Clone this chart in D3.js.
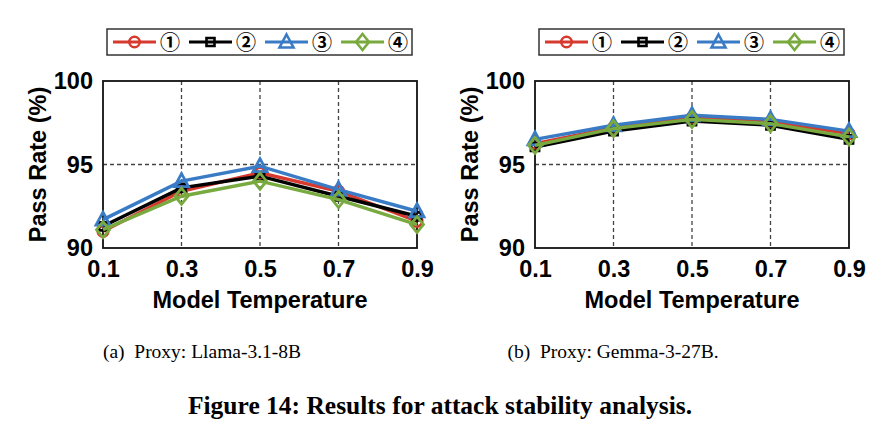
<!DOCTYPE html>
<html>
  <head>
    <meta charset="UTF-8" />
    <title>Figure 14: Results for attack stability analysis</title>
    <style>
      body { margin: 0; background: #fff; }
    </style>
  </head>
  <body>
    <script src="https://cdn.jsdelivr.net/npm/d3@7/dist/d3.min.js"></script>
    <script>
      // temperatures on the x axis
      var temps = [0.1, 0.3, 0.5, 0.7, 0.9];
      var xTickLabels = ["0.1", "0.3", "0.5", "0.7", "0.9"];
      var yTicks = [90, 95, 100];
      var seriesNames = ["\u2460", "\u2461", "\u2462", "\u2463"];
      var seriesColours = ["#d63a2f", "#000000", "#3a7bc6", "#79aa3f"];
      var seriesMarkers = ["circle", "square", "triangle", "diamond"];

      // (a) proxy Llama-3.1-8B
      var llamaS1 = [91.0, 93.4, 94.5, 93.4, 91.6];
      var llamaS2 = [91.3, 93.6, 94.3, 93.1, 91.9];
      var llamaS3 = [91.7, 94.0, 94.9, 93.5, 92.2];
      var llamaS4 = [91.1, 93.1, 94.0, 92.9, 91.4];

      // (b) proxy Gemma-3-27B
      var gemmaS1 = [96.25, 97.2, 97.8, 97.55, 96.85];
      var gemmaS2 = [96.05, 97.0, 97.6, 97.35, 96.5];
      var gemmaS3 = [96.5, 97.35, 97.95, 97.7, 97.0];
      var gemmaS4 = [96.15, 97.15, 97.7, 97.45, 96.65];

      var captions = ["(a)\u2002Proxy: Llama-3.1-8B", "(b)\u2002Proxy: Gemma-3-27B."];
      var figTitle = "Figure 14: Results for attack stability analysis.";

      var sans = "'Liberation Sans', Arial, sans-serif";
      var serif = "'Liberation Serif', 'DejaVu Serif', serif";

      var svg = d3.select("body").append("svg")
        .attr("width", 880)
        .attr("height", 438);

      function markerPath(type) {
        if (type == "circle") return d3.symbol(d3.symbolCircle, 85)();
        if (type == "square") return "M-4,-4H4V4H-4Z";
        if (type == "triangle") return "M0,-7.5L7,5.5H-7Z";
        return "M0,-8L6.5,0L0,8L-6.5,0Z";
      }

      function drawPanel(left, series, caption, captionX) {
        var plotW = 314, plotH = 167, top = 81;
        var g = svg.append("g").attr("transform", "translate(" + left + "," + top + ")");

        var x = d3.scalePoint().domain(temps).range([0, plotW]);
        var y = d3.scaleLinear().domain([90, 100]).range([plotH, 0]);

        // grid
        g.append("g").selectAll("line").data(temps.slice(1, 4)).enter().append("line")
          .attr("x1", function(d) { return x(d); })
          .attr("x2", function(d) { return x(d); })
          .attr("y1", 0).attr("y2", plotH)
          .attr("stroke", "#444").attr("stroke-width", 1.3)
          .attr("stroke-dasharray", "4,3");
        g.append("line")
          .attr("x1", 0).attr("x2", plotW)
          .attr("y1", y(95)).attr("y2", y(95))
          .attr("stroke", "#444").attr("stroke-width", 1.3)
          .attr("stroke-dasharray", "4,3");

        // frame
        g.append("rect")
          .attr("width", plotW).attr("height", plotH)
          .attr("fill", "none").attr("stroke", "#111").attr("stroke-width", 1.8);

        // axes
        var xAxis = d3.axisBottom(x).tickSize(0).tickPadding(12)
          .tickFormat(function(d, i) { return xTickLabels[i]; });
        var gx = g.append("g").attr("transform", "translate(0," + plotH + ")").call(xAxis);
        gx.select(".domain").remove();
        gx.selectAll("text")
          .attr("dy", "0.71em")
          .attr("fill", "#000")
          .style("font-family", sans).style("font-weight", "bold").style("font-size", "23.5px");

        var yAxis = d3.axisLeft(y).tickValues(yTicks).tickSize(0).tickPadding(10);
        var gy = g.append("g").call(yAxis);
        gy.select(".domain").remove();
        gy.selectAll("text")
          .attr("fill", "#000")
          .style("font-family", sans).style("font-weight", "bold").style("font-size", "23.5px");

        g.append("text")
          .attr("x", plotW / 2).attr("y", 227)
          .attr("text-anchor", "middle")
          .style("font-family", sans).style("font-weight", "bold").style("font-size", "23.5px")
          .text("Model Temperature");

        g.append("text")
          .attr("transform", "translate(-57," + (plotH / 2) + ") rotate(-90)")
          .attr("text-anchor", "middle")
          .style("font-family", sans).style("font-weight", "bold").style("font-size", "23.5px")
          .text("Pass Rate (%)");

        // series
        var line = d3.line()
          .x(function(d, i) { return x(temps[i]); })
          .y(function(d) { return y(d); });

        series.forEach(function(vals, k) {
          var sg = g.append("g");
          sg.append("path")
            .attr("d", line(vals))
            .attr("fill", "none")
            .attr("stroke", seriesColours[k])
            .attr("stroke-width", 3.4);
          sg.selectAll("path.mk").data(vals).enter().append("path")
            .attr("class", "mk")
            .attr("d", markerPath(seriesMarkers[k]))
            .attr("transform", function(d, i) { return "translate(" + x(temps[i]) + "," + y(d) + ")"; })
            .attr("fill", "none")
            .attr("stroke", seriesColours[k])
            .attr("stroke-width", 2.8);
        });

        // legend
        var lg = svg.append("g").attr("transform", "translate(" + (left + 4) + ",29)");
        lg.append("rect")
          .attr("width", 305).attr("height", 26)
          .attr("fill", "#fff").attr("stroke", "#333").attr("stroke-width", 1.5);
        seriesNames.forEach(function(name, k) {
          var ex = 6 + k * 76;
          var eg = lg.append("g").attr("transform", "translate(" + ex + ",13)");
          eg.append("line")
            .attr("x1", 0).attr("x2", 43)
            .attr("stroke", seriesColours[k]).attr("stroke-width", 3);
          eg.append("path")
            .attr("d", markerPath(seriesMarkers[k]))
            .attr("transform", "translate(21.5,0)")
            .attr("fill", "none")
            .attr("stroke", seriesColours[k]).attr("stroke-width", 2.6);
          eg.append("text")
            .attr("x", 47).attr("y", 1)
            .attr("dy", "0.35em")
            .style("font-family", "'Noto Sans CJK JP', 'DejaVu Sans', sans-serif")
            .style("font-weight", "bold")
            .style("font-size", "20px")
            .text(name);
        });

        svg.append("text")
          .attr("x", captionX).attr("y", 358)
          .attr("text-anchor", "middle")
          .style("font-family", serif).style("font-size", "19.5px")
          .text(caption);
      }

      drawPanel(103, [llamaS1, llamaS2, llamaS3, llamaS4], captions[0], 202);
      drawPanel(535, [gemmaS1, gemmaS2, gemmaS3, gemmaS4], captions[1], 613);

      svg.append("text")
        .attr("x", 440).attr("y", 414)
        .attr("text-anchor", "middle")
        .style("font-family", serif).style("font-weight", "bold").style("font-size", "25.5px")
        .text(figTitle);
    </script>
  </body>
</html>
